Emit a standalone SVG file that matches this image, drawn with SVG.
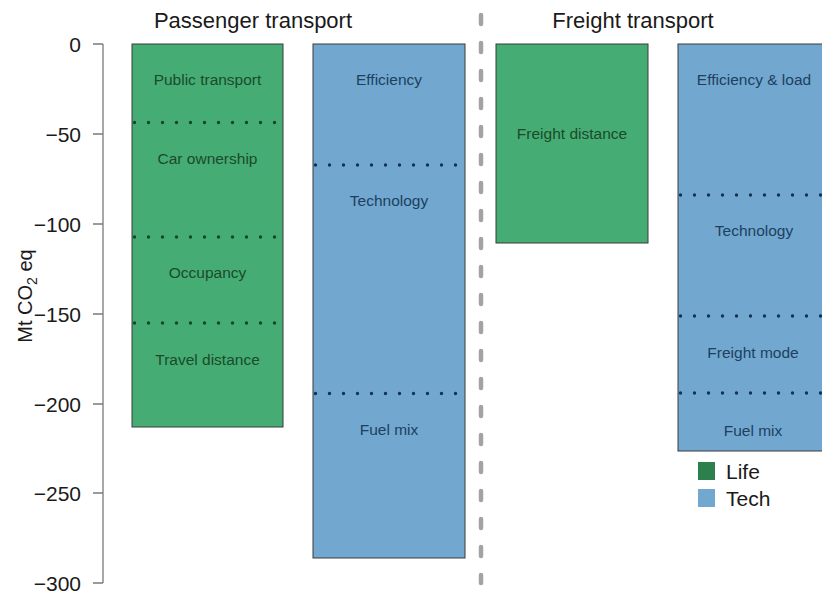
<svg xmlns="http://www.w3.org/2000/svg" width="822" height="594" viewBox="0 0 822 594">
  <style>
    text { font-family: "Liberation Sans", Arial, sans-serif; }
    .title { font-size: 22px; fill: #1a1a1a; text-anchor: middle; }
    .tick { font-size: 21px; fill: #1a1a1a; text-anchor: end; }
    .axis { stroke: #7a7a7a; stroke-width: 1.3; fill: none; }
    .life { fill: #45ad73; stroke: #3a3a3a; stroke-width: 1; }
    .tech { fill: #72a8d0; stroke: #3a3a3a; stroke-width: 1; }
    .lt { font-size: 15.5px; fill: #1b4a2c; text-anchor: middle; }
    .tt { font-size: 15.5px; fill: #1d3f60; text-anchor: middle; }
    .ldot { stroke: #15452a; stroke-width: 3.4; stroke-linecap: round; stroke-dasharray: 0 14; }
    .tdot { stroke: #143352; stroke-width: 3.4; stroke-linecap: round; stroke-dasharray: 0 14; }
    .legend { font-size: 21px; fill: #1a1a1a; }
  </style>

  <rect width="822" height="594" fill="#ffffff"/>

  <!-- y axis -->
  <g id="y-axis">
    <path class="axis" d="M103 44V583M93 44H103M93 134H103M93 224H103M93 314H103M93 404H103M93 493H103M93 583H103"/>
    <text class="tick" x="81" y="51.5">0</text>
    <text class="tick" x="81" y="141.5">−50</text>
    <text class="tick" x="81" y="231.5">−100</text>
    <text class="tick" x="81" y="321.5">−150</text>
    <text class="tick" x="81" y="411.5">−200</text>
    <text class="tick" x="81" y="500.5">−250</text>
    <text class="tick" x="81" y="590.5">−300</text>
    <text transform="translate(32 296) rotate(-90)" text-anchor="middle" font-size="20" fill="#1a1a1a">Mt CO<tspan font-size="14" dy="5">2</tspan><tspan dy="-5"> eq</tspan></text>
  </g>

  <!-- panel titles -->
  <text class="title" x="253" y="28">Passenger transport</text>
  <text class="title" x="633" y="28">Freight transport</text>

  <!-- divider -->
  <g id="connectors">
    <line x1="481" y1="15" x2="481" y2="583" stroke="#a3a3a3" stroke-width="4.5" stroke-linecap="round" stroke-dasharray="9 19"/>
  </g>

  <!-- passenger: lifestyle -->
  <g id="passenger-life">
    <rect class="life" x="132" y="44" width="151" height="383"/>
    <line class="ldot" x1="134.5" y1="122.5" x2="283" y2="122.5"/>
    <line class="ldot" x1="134.5" y1="237" x2="283" y2="237"/>
    <line class="ldot" x1="134.5" y1="323" x2="283" y2="323"/>
    <text class="lt" x="207.5" y="84.5">Public transport</text>
    <text class="lt" x="207.5" y="163.5">Car ownership</text>
    <text class="lt" x="207.5" y="277.5">Occupancy</text>
    <text class="lt" x="207.5" y="364.5">Travel distance</text>
  </g>

  <!-- passenger: technology -->
  <g id="passenger-tech">
    <rect class="tech" x="313" y="44" width="152" height="514"/>
    <line class="tdot" x1="315.5" y1="165" x2="465" y2="165"/>
    <line class="tdot" x1="315.5" y1="393.5" x2="465" y2="393.5"/>
    <text class="tt" x="389" y="84.5">Efficiency</text>
    <text class="tt" x="389" y="205.5">Technology</text>
    <text class="tt" x="389" y="434.5">Fuel mix</text>
  </g>

  <!-- freight: lifestyle -->
  <g id="freight-life">
    <rect class="life" x="496" y="44" width="152" height="199"/>
    <text class="lt" x="572" y="138.5">Freight distance</text>
  </g>

  <!-- freight: technology -->
  <g id="freight-tech">
    <rect class="tech" x="678" y="44" width="152" height="407"/>
    <line class="tdot" x1="680.5" y1="195" x2="830" y2="195"/>
    <line class="tdot" x1="680.5" y1="316" x2="830" y2="316"/>
    <line class="tdot" x1="680.5" y1="393" x2="830" y2="393"/>
    <text class="tt" x="754" y="84.5">Efficiency &amp; load</text>
    <text class="tt" x="754" y="235.5">Technology</text>
    <text class="tt" x="753" y="357.5">Freight mode</text>
    <text class="tt" x="753" y="435.5">Fuel mix</text>
  </g>

  <!-- legend -->
  <g id="legend">
    <rect x="698" y="462" width="17" height="18" fill="#2e7f4e"/>
    <rect x="698" y="489" width="17" height="18" fill="#72a8d0"/>
    <text class="legend" x="726" y="479">Life</text>
    <text class="legend" x="726" y="506">Tech</text>
  </g>
</svg>
